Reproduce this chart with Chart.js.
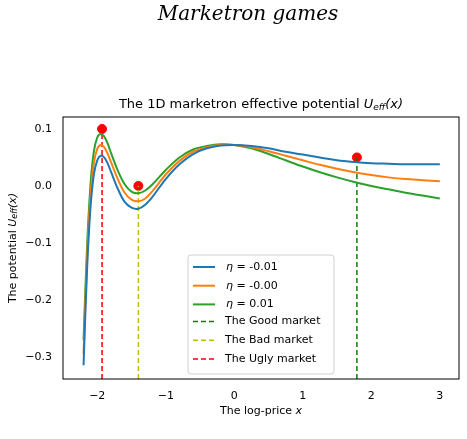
<!DOCTYPE html>
<html><head><meta charset="utf-8">
<script src="https://cdn.jsdelivr.net/npm/chart.js@4"></script>
<style>html,body{margin:0;padding:0;background:#fff}</style>
</head><body>
<canvas id="c" width="467" height="439" style="width:467px;height:439px"></canvas>
<script>
const xs = [-2.2,-2.15,-2.1,-2.05,-2.0,-1.95,-1.9,-1.85,-1.8,-1.7,-1.6,-1.5,-1.4,-1.3,-1.2,-1.0,-0.8,-0.6,-0.4,-0.2,0,0.25,0.5,0.75,1,1.25,1.5,1.75,2,2.25,2.5,2.75,3];
const blue = [-0.315,-0.15,-0.04,0.02,0.045,0.053,0.05,0.04,0.025,-0.005,-0.028,-0.038,-0.04,-0.033,-0.02,0.012,0.038,0.056,0.066,0.071,0.072,0.070,0.066,0.060,0.055,0.050,0.045,0.042,0.040,0.039,0.038,0.038,0.038];
const orange = [-0.295,-0.13,-0.02,0.04,0.065,0.072,0.068,0.057,0.042,0.012,-0.012,-0.024,-0.027,-0.022,-0.010,0.020,0.044,0.060,0.068,0.072,0.072,0.068,0.061,0.053,0.045,0.037,0.030,0.024,0.019,0.015,0.012,0.010,0.008];
const green = [-0.27,-0.11,0.0,0.06,0.085,0.091,0.087,0.075,0.058,0.027,0.003,-0.010,-0.013,-0.008,0.002,0.028,0.050,0.064,0.070,0.073,0.072,0.066,0.056,0.045,0.034,0.024,0.015,0.007,0.0,-0.006,-0.012,-0.017,-0.022];
const seriesLabels = ["η = -0.01","η = -0.00","η = 0.01"];
const marketX = [1.79,-1.4,-1.93];
const marketY = [0.05,0.0,0.1];
const marketLabels = ["The Good market","The Bad market","The Ugly market"];
const yBottom = -0.339;
const xTicks = [-2,-1,0,1,2,3];
const yTicks = [-0.3,-0.2,-0.1,0.0,0.1];

const lineColors = ['#1f77b4','#ff7f0e','#2ca02c'];
const mColors = ['#008000','#bfbf00','#ff0000'];
const toPts = a => xs.map((x,i)=>({x, y:a[i]}));
const datasets = [];
[blue,orange,green].forEach((a,i)=>datasets.push({data:toPts(a),borderColor:lineColors[i],borderWidth:2,pointRadius:0,showLine:true,tension:0.35}));
marketX.forEach((x,i)=>datasets.push({data:[{x,y:yBottom},{x,y:marketY[i]}],borderColor:mColors[i],borderWidth:1.5,borderDash:[5,3],pointRadius:0,showLine:true}));
datasets.push({data:marketX.map((x,i)=>({x,y:marketY[i]})),backgroundColor:'#ff0000',borderColor:'#ff0000',pointRadius:4.5,showLine:false});

const deco = {id:'deco',afterDraw(ch){
  const c=ch.ctx, a=ch.chartArea;
  c.save();
  c.strokeStyle='#000';c.lineWidth=1;c.strokeRect(a.left,a.top,a.right-a.left,a.bottom-a.top);
  c.fillStyle='#000';c.textAlign='center';c.textBaseline='middle';
  c.font='italic 20px "DejaVu Serif"';c.fillText('Marketron games',248,15);
  c.font='13px "DejaVu Sans"';
  const t1='The 1D marketron effective potential ';c.textAlign='left';
  let w=c.measureText(t1).width; c.font='italic 13px "DejaVu Sans"'; let w2=c.measureText('U').width;
  c.font='italic 9px "DejaVu Sans"'; let w3=c.measureText('eff').width;
  c.font='italic 13px "DejaVu Sans"'; let w4=c.measureText('(x)').width;
  let sx=(a.left+a.right)/2-(w+w2+w3+w4)/2, ty=105;
  c.font='13px "DejaVu Sans"';c.fillText(t1,sx,ty);sx+=w;
  c.font='italic 13px "DejaVu Sans"';c.fillText('U',sx,ty);sx+=w2;
  c.font='italic 9px "DejaVu Sans"';c.fillText('eff',sx,ty+3);sx+=w3;
  c.font='italic 13px "DejaVu Sans"';c.fillText('(x)',sx,ty);
  // x label
  c.font='11px "DejaVu Sans"';c.textAlign='left';
  const xl='The log-price ';let xw=c.measureText(xl).width;c.font='italic 11px "DejaVu Sans"';let xw2=c.measureText('x').width;
  let xx=(a.left+a.right)/2-(xw+xw2)/2;c.font='11px "DejaVu Sans"';c.fillText(xl,xx,411);c.font='italic 11px "DejaVu Sans"';c.fillText('x',xx+xw,411);
  // y label
  c.save();c.translate(13,(a.top+a.bottom)/2);c.rotate(-Math.PI/2);
  c.font='11px "DejaVu Sans"';const yl='The potential ';let yw=c.measureText(yl).width;
  c.font='italic 11px "DejaVu Sans"';let yw2=c.measureText('U').width;c.font='italic 8px "DejaVu Sans"';let yw3=c.measureText('eff').width;
  c.font='italic 11px "DejaVu Sans"';let yw4=c.measureText('(x)').width;
  let yx=-(yw+yw2+yw3+yw4)/2;
  c.font='11px "DejaVu Sans"';c.fillText(yl,yx,0);yx+=yw;c.font='italic 11px "DejaVu Sans"';c.fillText('U',yx,0);yx+=yw2;
  c.font='italic 8px "DejaVu Sans"';c.fillText('eff',yx,2);yx+=yw3;c.font='italic 11px "DejaVu Sans"';c.fillText('(x)',yx,0);
  c.restore();
  // legend
  const lx=188,ly=255,lw=146,lh=119;
  c.fillStyle='rgba(255,255,255,0.85)';c.strokeStyle='#d0d0d0';c.lineWidth=1;
  c.beginPath();c.roundRect(lx,ly,lw,lh,3);c.fill();c.stroke();
  const items=[...seriesLabels.map((l,i)=>[l,lineColors[i],false]),...marketLabels.map((l,i)=>[l,mColors[i],true])];
  items.forEach((it,i)=>{const y=ly+12+i*18.7+(i>2?-1.5:0);
    c.strokeStyle=it[1];c.lineWidth=it[2]?1.5:2;c.setLineDash(it[2]?[5,3]:[]);
    c.beginPath();c.moveTo(lx+5,y);c.lineTo(lx+27,y);c.stroke();c.setLineDash([]);
    c.fillStyle='#000';c.font='11px "DejaVu Sans"';
    if(!it[2]){c.font='italic 11px "DejaVu Sans"';c.fillText('η',lx+38,y);let ew=c.measureText('η').width;c.font='11px "DejaVu Sans"';c.fillText(it[0].slice(1),lx+38+ew,y);}
    else c.fillText(it[0],lx+37,y);
  });
  c.restore();
}};

new Chart(document.getElementById('c'),{type:'scatter',data:{datasets},
 options:{responsive:false,animation:false,devicePixelRatio:1,
  layout:{padding:{top:117,right:8,left:0,bottom:0}},
  plugins:{legend:{display:false},title:{display:false},tooltip:{enabled:false}},
  scales:{
   x:{type:'linear',min:-2.5,max:3.28,afterFit(s){s.height=60;},
      afterBuildTicks(s){s.ticks=xTicks.map(v=>({value:v}));},
      grid:{display:false,drawTicks:true},border:{display:false},
      ticks:{color:'#000',font:{size:11,family:'DejaVu Sans'},callback:v=>v<0?'−'+Math.abs(v):String(v),maxRotation:0}},
   y:{min:-0.339,max:0.121,afterFit(s){s.width=63;},
      afterBuildTicks(s){s.ticks=yTicks.map(v=>({value:v}));},
      grid:{display:false},border:{display:false},
      ticks:{color:'#000',font:{size:11,family:'DejaVu Sans'},callback:v=>(v<0?'−':'')+Math.abs(v).toFixed(1)}}
  }},
 plugins:[deco]});
</script>
</body></html>
